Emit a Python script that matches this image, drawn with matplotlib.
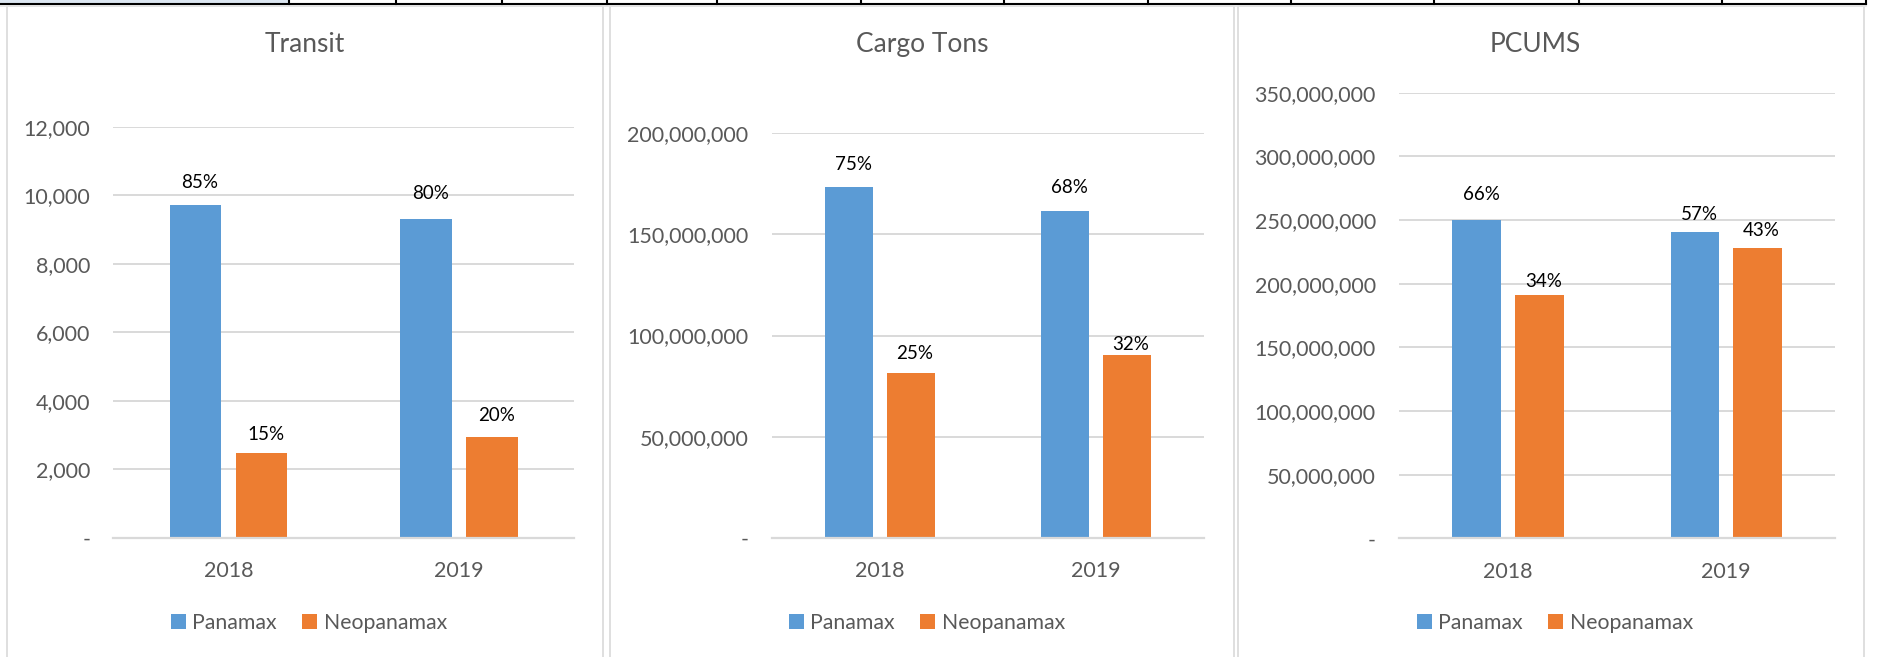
import matplotlib
matplotlib.use('Agg')
import matplotlib.pyplot as plt
from matplotlib.patches import Rectangle
from matplotlib.lines import Line2D
from matplotlib.ticker import FuncFormatter
import numpy as np

plt.rcParams['font.family'] = ['Lato', 'DejaVu Sans']

# data
years = ['2018', '2019']
series = ['Panamax', 'Neopanamax']

transit_panamax = [9700, 9300]
transit_neopanamax = [2470, 2940]
transit_pct_panamax = ['85%', '80%']
transit_pct_neopanamax = ['15%', '20%']

cargo_panamax = [173.6e6, 161.6e6]
cargo_neopanamax = [81.3e6, 90.5e6]
cargo_pct_panamax = ['75%', '68%']
cargo_pct_neopanamax = ['25%', '32%']

pcums_panamax = [250.3e6, 240.5e6]
pcums_neopanamax = [190.8e6, 227.7e6]
pcums_pct_panamax = ['66%', '57%']
pcums_pct_neopanamax = ['34%', '43%']

titles = ['Transit', 'Cargo Tons', 'PCUMS']
y_max = [12000, 200e6, 350e6]
y_step = [2000, 50e6, 50e6]

panels = [
    (transit_panamax, transit_neopanamax, transit_pct_panamax, transit_pct_neopanamax),
    (cargo_panamax, cargo_neopanamax, cargo_pct_panamax, cargo_pct_neopanamax),
    (pcums_panamax, pcums_neopanamax, pcums_pct_panamax, pcums_pct_neopanamax),
]

# layout (pixels)
W, H, DPI = 1883, 657, 100
BLUE, ORANGE = '#5B9BD5', '#ED7D31'
GRID = '#d9d9d9'
TXT = '#595959'

ax_px = [(113.5, 574.1, 126.7, 537.7), (771.8, 1204.0, 133.3, 537.7), (1399.0, 1835.2, 92.7, 538.3)]
frame_px = [(7, 603), (610, 1234), (1238, 1864)]
title_x = [305, 922, 1535]
legend_x = [309, 927, 1555]
# distance (px) from bar top to label baseline, [panamax, neopanamax] per year
label_gap_px = [[[17.4, 19.7], [13, 16.3]],
                [[16.7, 17.7], [14, 4.7]],
                [[19.7, 12], [8.7, 12.7]]]

fig = plt.figure(figsize=(W / DPI, H / DPI), dpi=DPI)
fig.patch.set_facecolor('white')

# spreadsheet strip on top
fig.add_artist(Rectangle((0, 1 - 3.5 / H), 289 / W, 3.5 / H, transform=fig.transFigure,
                         facecolor='#dce6f1', edgecolor='none'))
fig.add_artist(Line2D([0, 1866 / W], [1 - 3.5 / H] * 2, transform=fig.transFigure, color='black', lw=1.5))
fig.add_artist(Line2D([0, 1866 / W], [1 - 5.8 / H] * 2, transform=fig.transFigure, color='#e4e4e4', lw=1.2))
for cx in [289, 396, 502, 607, 717, 861, 1004, 1148, 1291, 1434, 1579, 1722, 1866]:
    fig.add_artist(Line2D([cx / W] * 2, [1, 1 - 3.5 / H], transform=fig.transFigure, color='black', lw=1.5))

# chart frames
for x0, x1 in frame_px:
    fig.add_artist(Rectangle((x0 / W, -0.01), (x1 - x0) / W, 1 - 6 / H + 0.01, transform=fig.transFigure,
                             fill=False, edgecolor=GRID, lw=1.2))

x = np.arange(len(years))
bw = 0.223
off = 0.1433

for i, (pan, neo, pct_pan, pct_neo) in enumerate(panels):
    l, r, t, b = ax_px[i]
    ax = fig.add_axes([l / W, 1 - b / H, (r - l) / W, (b - t) / H])
    bp = ax.bar(x - off, pan, bw, color=BLUE, label=series[0], zorder=2)
    bn = ax.bar(x + off, neo, bw, color=ORANGE, label=series[1], zorder=2)

    ax.set_xlim(-0.5, 1.5)
    ax.set_ylim(0, y_max[i])
    ax.set_yticks(np.arange(0, y_max[i] + y_step[i] / 2, y_step[i]))
    ax.yaxis.set_major_formatter(FuncFormatter(lambda v, p: '-' if v == 0 else f'{v:,.0f}'))
    ax.set_xticks(x)
    ax.set_xticklabels(years)
    ax.tick_params(axis='y', length=0, pad=16.7, labelsize=15.5, labelcolor=TXT)
    ax.tick_params(axis='x', length=0, pad=17, labelsize=15.5, labelcolor=TXT)
    ax.yaxis.grid(True, color=GRID, lw=1.4)
    ax.set_axisbelow(True)
    for s in ['top', 'left', 'right']:
        ax.spines[s].set_visible(False)
    ax.spines['bottom'].set_color(GRID)
    ax.spines['bottom'].set_linewidth(1.6)

    for j in range(len(years)):
        for k, (vals, pcts) in enumerate([(pan, pct_pan), (neo, pct_neo)]):
            xpos = x[j] + (-off if k == 0 else off)
            gap = label_gap_px[i][k][j] * 72 / DPI
            ax.annotate(pcts[j], (xpos, vals[j]), xytext=(3, gap), textcoords='offset points',
                        ha='center', va='baseline', fontsize=13.5, color='black')

    fig.text(title_x[i] / W, 1 - 52.3 / H, titles[i], ha='center', va='baseline',
             fontsize=19, color=TXT)

    ax.legend(handles=[bp, bn], loc='center', bbox_to_anchor=(legend_x[i] / W, 1 - 623 / H),
              bbox_transform=fig.transFigure, ncol=2, frameon=False, fontsize=15.3,
              handlelength=0.7, handleheight=0.7, handletextpad=0.3, columnspacing=1.2,
              labelcolor=TXT, borderpad=0)

fig.savefig('out.png', dpi=DPI, facecolor='white')
